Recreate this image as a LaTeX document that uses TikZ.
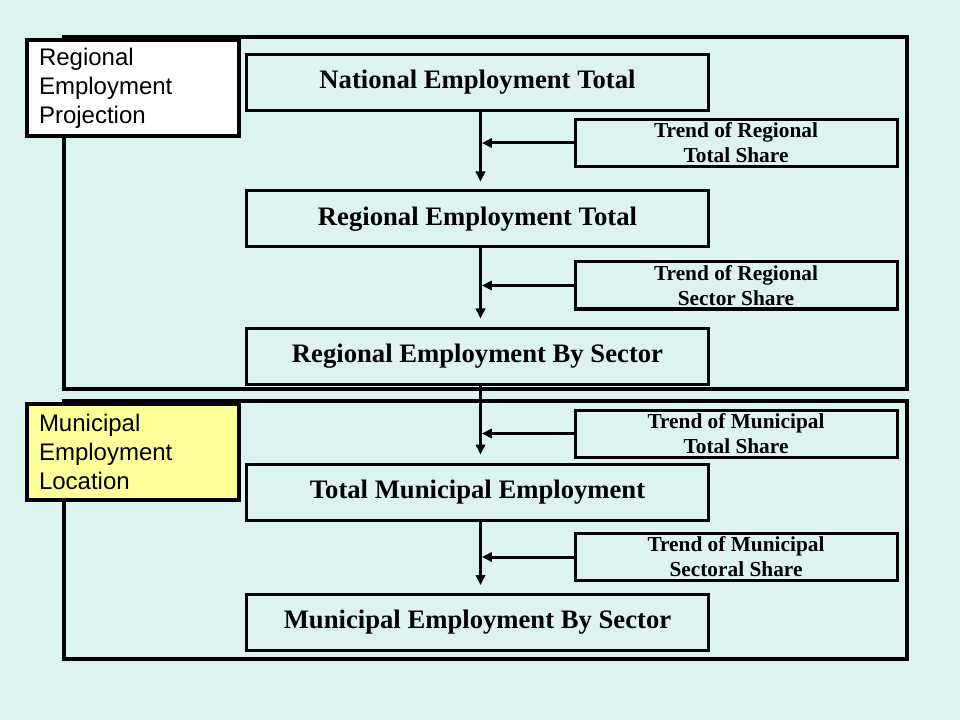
\documentclass[tikz,border=0pt]{standalone}
\usepackage{fontspec}
\setmainfont{Liberation Serif}
\setsansfont{Liberation Sans}
\usetikzlibrary{arrows.meta}
\definecolor{slidebg}{RGB}{220,243,240}
\definecolor{sideyellow}{RGB}{255,255,153}

\begin{document}
\begin{tikzpicture}[x=0.75pt,y=-0.75pt,
    frame/.style={draw=black,line width=3pt},
    mainbox/.style={draw=black,line width=2.25pt,minimum width=346.5pt,minimum height=42pt,inner sep=0pt,font=\fontsize{20}{24}\selectfont\bfseries},
    trendbox/.style={draw=black,line width=2.25pt,minimum width=241.5pt,minimum height=35.25pt,inner sep=0pt,align=center,font=\fontsize{16}{18.75}\selectfont\bfseries},
    sidebox/.style={draw=black,line width=3pt,minimum width=159pt,minimum height=72pt,text width=141pt,inner xsep=9pt,align=left,anchor=north west,font=\sffamily\fontsize{18}{21.6}\selectfont},
    flow/.style={line width=2.25pt,-{Triangle[length=7.5pt,width=7pt]}}]
    % slide background
    \fill [slidebg] (0,0) rectangle (960,720);
    % the two frames
    \draw [frame] (64,37) rectangle (907,389);
    \draw [frame] (64,401) rectangle (907,659);
    \node [sidebox,fill=white] (proj) at (25,38) {Regional\\Employment\\Projection};
    \node [sidebox,fill=sideyellow] (loc) at (25,402) {Municipal\\Employment\\Location};
    % main chain
    \node [mainbox] (nat) at (477.5,82.5) {National Employment Total};
    \node [mainbox] (regtot) at (477.5,219) {Regional Employment Total};
    \node [mainbox] (regsec) at (477.5,356) {Regional Employment By Sector};
    \node [mainbox] (muntot) at (477.5,492) {Total Municipal Employment};
    \node [mainbox] (munsec) at (477.5,622.5) {Municipal Employment By Sector};
    % trend inputs
    \node [trendbox] (trrt) at (736,143) {Trend of Regional\\Total Share};
    \node [trendbox] (trrs) at (736,285.5) {Trend of Regional\\Sector Share};
    \node [trendbox] (trmt) at (736,433.5) {Trend of Municipal\\Total Share};
    \node [trendbox] (trms) at (736,557) {Trend of Municipal\\Sectoral Share};
    % arrows
    \draw [flow,shorten >=6pt] ([xshift=2.25pt]nat.south) -- ([xshift=2.25pt]regtot.north);
    \draw [flow,shorten >=6pt] ([xshift=2.25pt]regtot.south) -- ([xshift=2.25pt]regsec.north);
    \draw [flow,shorten >=6pt] ([xshift=2.25pt]regsec.south) -- ([xshift=2.25pt]muntot.north);
    \draw [flow,shorten >=6pt] ([xshift=2.25pt]muntot.south) -- ([xshift=2.25pt]munsec.north);
    \draw [flow,shorten >=1.1pt] (trrt.west) -- ([xshift=2.25pt]trrt.west -| nat.south);
    \draw [flow,shorten >=1.1pt] (trrs.west) -- ([xshift=2.25pt]trrs.west -| nat.south);
    \draw [flow,shorten >=1.1pt] (trmt.west) -- ([xshift=2.25pt]trmt.west -| nat.south);
    \draw [flow,shorten >=1.1pt] (trms.west) -- ([xshift=2.25pt]trms.west -| nat.south);
\end{tikzpicture}
\end{document}
